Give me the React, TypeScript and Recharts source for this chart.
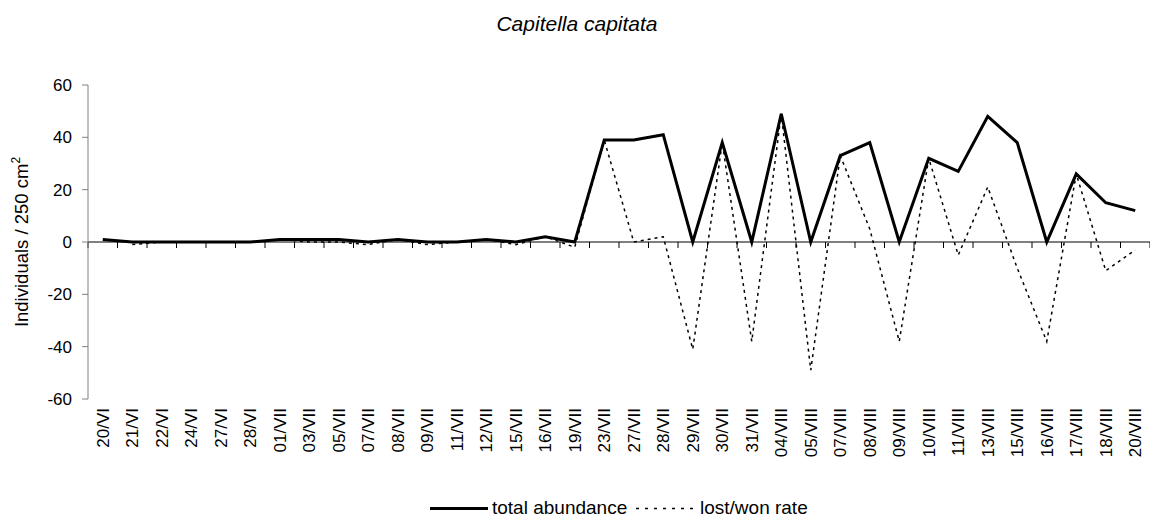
import { LineChart, Line, XAxis, YAxis, ReferenceLine, Legend } from 'recharts'

const categories = [
  '20/VI', '21/VI', '22/VI', '24/VI', '27/VI', '28/VI',
  '01/VII', '03/VII', '05/VII', '07/VII', '08/VII', '09/VII', '11/VII', '12/VII',
  '15/VII', '16/VII', '19/VII', '23/VII', '27/VII', '28/VII', '29/VII', '30/VII', '31/VII',
  '04/VIII', '05/VIII', '07/VIII', '08/VIII', '09/VIII', '10/VIII', '11/VIII',
  '13/VIII', '15/VIII', '16/VIII', '17/VIII', '18/VIII', '20/VIII',
]

const totalAbundance = [
  1, 0, 0, 0, 0, 0,
  1, 1, 1, 0, 1, 0, 0, 1,
  0, 2, 0, 39, 39, 41, 0, 38, 0,
  49, 0, 33, 38, 0, 32, 27,
  48, 38, 0, 26, 15, 12,
]

const lostWonRate: (number | null)[] = [
  null, -1, 0, 0, 0, 0,
  1, 0, 0, -1, 1, -1, 0, 1,
  -1, 2, -2, 39, 0, 2, -41, 38, -38,
  49, -49, 33, 5, -38, 32, -5,
  21, -10, -38, 26, -11, -3,
]

const yTicks = [-60, -40, -20, 0, 20, 40, 60]

const FONT = '"Liberation Sans", Arial, sans-serif'

const data = categories.map((date, i) => ({
  date,
  total: totalAbundance[i],
  rate: lostWonRate[i],
}))

function DateTick({ x, y, payload }: any) {
  return (
    <text
      transform={`translate(${x},${y}) rotate(-90)`}
      textAnchor="end"
      dy="0.35em"
      fontSize={17}
      fontFamily={FONT}
      fill="#000"
    >
      {payload.value}
    </text>
  )
}

// zero line with Excel-style tick marks at the category boundaries
function ZeroAxis(props: any) {
  const { x1, y1, x2 } = props
  const step = (x2 - x1) / categories.length
  const marks = []
  for (let i = 0; i <= categories.length; i++) {
    const x = x1 + i * step
    marks.push(<line key={i} x1={x} y1={y1} x2={x} y2={y1 + 6} stroke="#000" strokeWidth={1} />)
  }
  return (
    <g>
      <line x1={x1} y1={y1} x2={x2} y2={y1} stroke="#000" strokeWidth={1} />
      {marks}
    </g>
  )
}

function YLabel({ viewBox }: any) {
  const cy = viewBox.y + viewBox.height / 2
  return (
    <text
      transform={`translate(28,${cy}) rotate(-90)`}
      textAnchor="middle"
      fontSize={18.5}
      fontFamily={FONT}
      fill="#000"
    >
      Individuals / 250 cm
      <tspan dy={-8} fontSize={12}>2</tspan>
    </text>
  )
}

function LegendBox() {
  return (
    <svg width={1150} height={24} style={{ display: 'block' }}>
      <line x1={430} y1={11.5} x2={488} y2={11.5} stroke="#000" strokeWidth={3} />
      <text x={492} y={17} fontSize={19} fontFamily={FONT} fill="#000">
        total abundance
      </text>
      <line x1={636} y1={11.5} x2={696} y2={11.5} stroke="#000" strokeWidth={1.5} strokeDasharray="3 6" />
      <text x={700} y={17} fontSize={19} fontFamily={FONT} fill="#000">
        lost/won rate
      </text>
    </svg>
  )
}

export default function App() {
  return (
    <div style={{ position: 'absolute', left: 0, top: 0, width: 1150, height: 521, background: '#fff' }}>
      <div
        style={{
          position: 'absolute',
          top: 13,
          left: 2,
          width: 1150,
          textAlign: 'center',
          fontFamily: FONT,
          fontStyle: 'italic',
          fontSize: 21,
          lineHeight: '21px',
          color: '#000',
        }}
      >
        Capitella capitata
      </div>
      <LineChart width={1150} height={521} data={data} margin={{ top: 85, right: 0, bottom: 0, left: 0 }}>
        <XAxis
          dataKey="date"
          scale="band"
          interval={0}
          axisLine={false}
          tickLine={false}
          tickSize={6}
          tickMargin={3}
          height={98}
          tick={<DateTick />}
        />
        <YAxis
          width={88}
          domain={[-60, 60]}
          ticks={yTicks}
          interval={0}
          tickSize={6}
          tickMargin={10}
          axisLine={{ stroke: '#808080' }}
          tickLine={{ stroke: '#808080' }}
          tick={{ fontSize: 17, fill: '#000', fontFamily: FONT }}
          label={{ content: <YLabel /> }}
        />
        <ReferenceLine y={0} shape={<ZeroAxis />} />
        <Line
          type="linear"
          dataKey="total"
          name="total abundance"
          stroke="#000"
          strokeWidth={3}
          dot={false}
          activeDot={false}
          isAnimationActive={false}
        />
        <Line
          type="linear"
          dataKey="rate"
          name="lost/won rate"
          stroke="#000"
          strokeWidth={1.5}
          strokeDasharray="3 4"
          dot={false}
          activeDot={false}
          isAnimationActive={false}
        />
        <Legend verticalAlign="bottom" height={24} content={<LegendBox />} />
      </LineChart>
    </div>
  )
}
